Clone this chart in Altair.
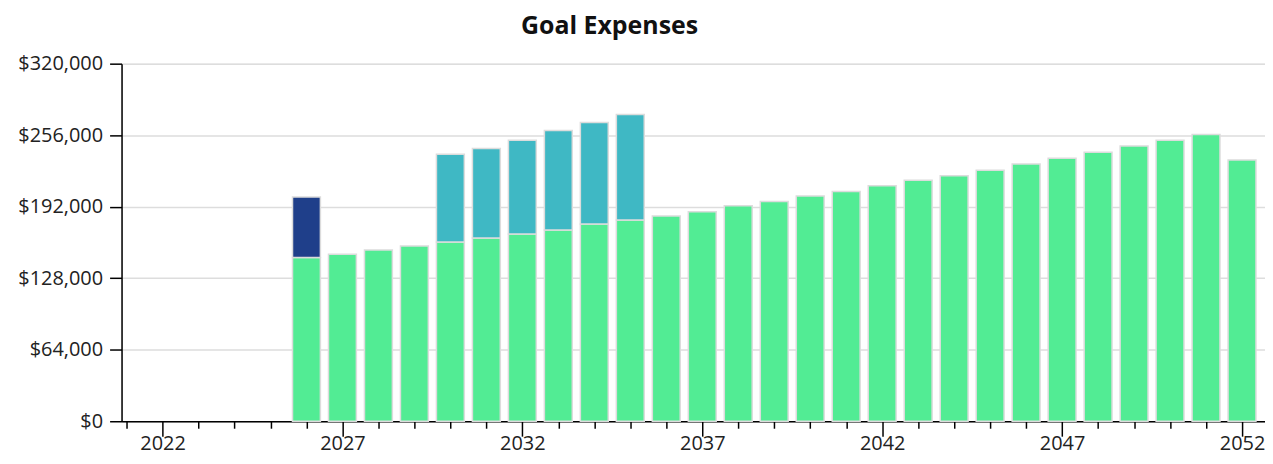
import altair as alt
import pandas as pd

years = list(range(2026, 2053))
base_values = [146500, 149500, 153300, 156900, 160450, 164000, 167600, 171150,
               176500, 180100, 183600, 187500, 192800, 196700, 201500, 205600,
               210700, 215700, 219600, 224600, 230300, 235300, 240700, 246300,
               251400, 256700, 233800]
goal_a_years = [2026]
goal_a_values = [54200]
goal_b_years = [2030, 2031, 2032, 2033, 2034, 2035]
goal_b_values = [78450, 80000, 83800, 89150, 90900, 94500]

series_names = ["Living Expenses", "Goal A", "Goal B"]
series_colors = ["#52ec94", "#1f3f8a", "#3fb8c4"]
y_ticks = [0, 64000, 128000, 192000, 256000, 320000]
x_ticks = list(range(2021, 2053))

rows = []
for y, v in zip(years, base_values):
    rows.append({"year": y, "value": v, "series": series_names[0], "order": 0})
for y, v in zip(goal_a_years, goal_a_values):
    rows.append({"year": y, "value": v, "series": series_names[1], "order": 1})
for y, v in zip(goal_b_years, goal_b_values):
    rows.append({"year": y, "value": v, "series": series_names[2], "order": 2})
df = pd.DataFrame(rows)

FONT = "Open Sans"

chart = alt.Chart(df).mark_bar(
    size=28, stroke="#dcdcdc", strokeWidth=1.5
).encode(
    x=alt.X("year:Q",
            scale=alt.Scale(domain=[2021, 2052.5], nice=False, zero=False),
            axis=alt.Axis(values=x_ticks, format="d", title=None, grid=False,
                          labelExpr="datum.value % 5 == 2 ? datum.label : ''",
                          tickSize={"condition": {"test": "datum.value % 5 == 2", "value": 15}, "value": 7},
                          labelPadding=13, labelBaseline="alphabetic", labelFlush=False,
                          domainColor="#000000", tickColor="#000000", domainWidth=1.5,
                          tickWidth=1.5, labelFontSize=20, labelColor="#222222",
                          labelFont=FONT)),
    y=alt.Y("value:Q", stack="zero",
            scale=alt.Scale(domain=[0, 320000], nice=False),
            axis=alt.Axis(values=y_ticks, format="$,.0f", title=None,
                          grid=True, gridColor="#dddddd", gridWidth=1.5,
                          tickSize=12, labelPadding=7,
                          domainColor="#000000", tickColor="#000000", domainWidth=1.5,
                          tickWidth=1.5, labelFontSize=20, labelColor="#222222",
                          labelFont=FONT)),
    color=alt.Color("series:N", scale=alt.Scale(domain=series_names, range=series_colors),
                    legend=None),
    order=alt.Order("order:Q"),
).properties(
    width=1148,
    height=359,
    padding={"left": 114, "top": 55, "right": 0, "bottom": 34},
    autosize=alt.AutoSizeParams(type="none"),
    title=alt.TitleParams("Goal Expenses", anchor="start", frame="group", dx=401, offset=15,
                          font=FONT, fontSize=25, fontWeight="bold", color="#111111"),
).configure_view(stroke=None).configure(background="white")

chart.save("out.html", embed_options={"renderer": "svg", "actions": False})
